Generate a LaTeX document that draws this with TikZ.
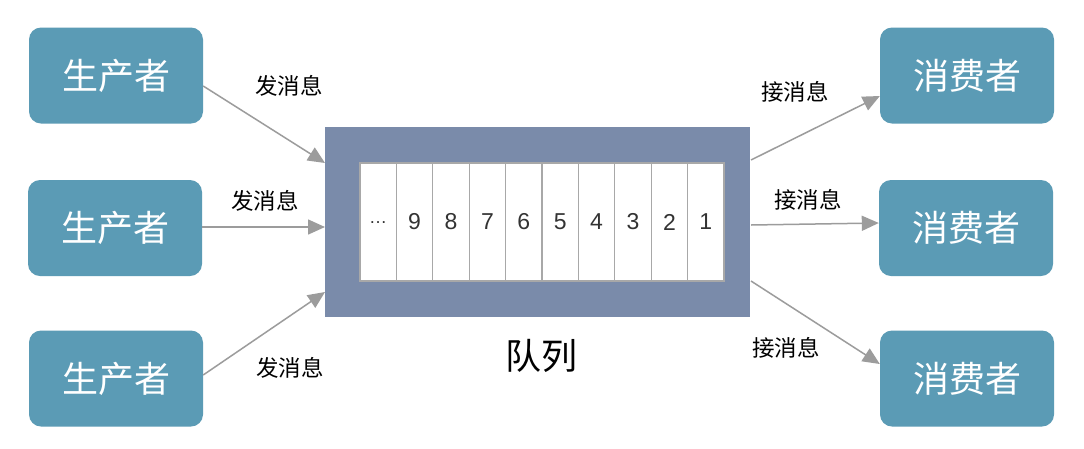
\documentclass[tikz,border=0pt]{standalone}
\usepackage{fontspec}
\setmainfont{Liberation Sans}
\newfontfamily\cjk{Noto Sans CJK SC}
\usetikzlibrary{arrows.meta}
\definecolor{boxc}{HTML}{5B9BB5}
\definecolor{queuec}{HTML}{7A8BAA}
\definecolor{arrc}{HTML}{9C9C9C}
\definecolor{divc}{HTML}{A8A8A8}
\definecolor{digc}{HTML}{333333}
\tikzset{
  actor/.style={fill=boxc, rounded corners=12pt, minimum width=174pt, minimum height=96pt,
    text=white, font=\cjk\fontsize{36}{40}\selectfont, inner sep=0pt},
  flow/.style={draw=arrc, line width=1.5pt, -{Triangle[length=17pt,width=15pt]}},
  lbl/.style={font=\cjk\fontsize{22.5}{26}\selectfont, text=black, inner sep=0pt},
  cell/.style={fill=white, draw=divc, line width=1.2pt, minimum width=36.4pt, minimum height=118pt,
    inner sep=0pt, text=digc, font=\fontsize{23}{26}\selectfont},
}
\begin{document}
\begin{tikzpicture}[x=1pt,y=-1pt]
\useasboundingbox (0,0) rectangle (1084,448);
\fill[white] (0,0) rectangle (1084,448);
% producers
\node[actor] (p1) at (116,75.5) {生产者};
\node[actor] (p2) at (115,228) {生产者};
\node[actor] (p3) at (116,378.5) {生产者};
% consumers
\node[actor] (c1) at (967,75.5) {消费者};
\node[actor] (c2) at (966,228) {消费者};
\node[actor] (c3) at (967,378.5) {消费者};
% queue
\node[fill=queuec, minimum width=425pt, minimum height=190pt, inner sep=0pt] (q) at (537.5,222) {};
\foreach \i/\t [count=\k from 0] in {a/\raisebox{-3pt}{\fontsize{18}{20}\selectfont\dots},b/9,c/8,d/7,e/6,f/5,g/4,h/3,i/2,j/1}{
  \node[cell] (cell\i) at ({360+18.2+36.4*\k},222) {\t};
}
\node[font=\cjk\fontsize{36}{40}\selectfont, inner sep=0pt] (qlabel) at (541,356) {队列};
% anchors
\coordinate (qin1) at (325,163);
\coordinate (qin2) at (325,227);
\coordinate (qin3) at (325,292);
\coordinate (qout1) at (751,160);
\coordinate (qout2) at (751,225);
\coordinate (qout3) at (751,281);
\draw[flow] (p1.east |- 0,86) -- (qin1);
\draw[flow] (p2.east |- 0,227) -- (qin2);
\draw[flow] (p3.east |- 0,375) -- (qin3);
\draw[flow] (qout1) -- (c1.west |- 0,96);
\draw[flow] (qout2) -- (c2.west |- 0,223);
\draw[flow] (qout3) -- (c3.west |- 0,364);
% labels
\node[lbl] (l1) at (289,86) {发消息};
\node[lbl] (l2) at (265,201) {发消息};
\node[lbl] (l3) at (290,368) {发消息};
\node[lbl] (r1) at (795,92) {接消息};
\node[lbl] (r2) at (808,200) {接消息};
\node[lbl] (r3) at (786,348) {接消息};
\end{tikzpicture}
\end{document}
